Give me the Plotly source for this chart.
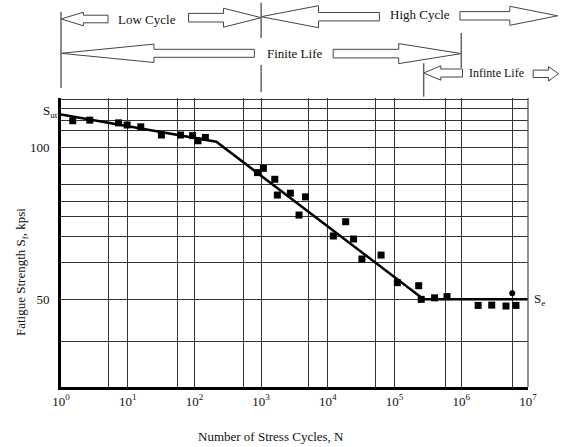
import math
import plotly.graph_objects as go

# ---------------- data ----------------
cycles_pts = [1.5, 2.7, 7.3, 9.8, 15.7, 32, 62, 94, 113, 146,
              880, 1080, 1600, 1750, 2740, 4620, 3700,
              18500, 12100, 24300, 32400, 62800,
              110000, 230000, 251000, 398000, 611000,
              1.79e6, 2.86e6, 4.68e6, 6.6e6]
strength_pts = [108.9, 109.1, 108.2, 107.5, 106.9, 104.2, 104.2, 104.0, 102.3, 103.4,
                91.8, 93.2, 89.6, 84.4, 85.0, 83.8, 77.8,
                75.6, 70.9, 69.9, 63.3, 64.6,
                55.5, 54.5, 50.0, 50.5, 50.9,
                48.0, 48.1, 47.8, 48.0]
cycles_round = [5.8e6]
strength_round = [52.0]

curve_cycles = [1, 213, 273000, 1e7]
curve_strength = [111.0, 102.0, 50.0, 50.0]

x_tick_vals = [1, 5.2, 10, 56, 100, 550, 1000, 5200, 1e4, 52000, 1e5, 580000, 1e6, 5.9e6, 1e7]
x_tick_text = ["10<sup>0</sup>", "", "10<sup>1</sup>", "", "10<sup>2</sup>", "", "10<sup>3</sup>", "",
               "10<sup>4</sup>", "", "10<sup>5</sup>", "", "10<sup>6</sup>", "", "10<sup>7</sup>"]
y_tick_vals = [36.2, 50, 62.2, 70.7, 77.2, 82.4, 87.9, 94.6, 100, 105.6, 109.1, 112.9, 116.06]
y_tick_text = ["", "50", "", "", "", "", "", "", "100", "", "", "", ""]

FONT = "Liberation Serif"
TXT = "#111111"

# ---------------- layout geometry ----------------
W, H = 563, 447
L, R, T, B = 61, 35, 98, 60
PW = W - L - R
PH = H - T - B
BOT = H - B

# decade pixel positions in the reference drawing (for placing the top schematic)
DEC = [61, 127.3, 191.7, 252.7, 321.3, 387.3, 454.7, 528.3]


def px2log(px):
    for k in range(len(DEC) - 1):
        if px < DEC[k + 1] or k == len(DEC) - 2:
            return k + (px - DEC[k]) / (DEC[k + 1] - DEC[k])


def xp(px):
    return px2log(px) / 7.0


def yp(py):
    return (BOT - py) / PH


def left_arrow(xt, yc, xb, hh, sh, xe):
    pts = [(xt, yc), (xb, yc - hh), (xb, yc - sh), (xe, yc - sh),
           (xe, yc + sh), (xb, yc + sh), (xb, yc + hh)]
    return "M " + " L ".join(f"{xp(a):.5f},{yp(b):.5f}" for a, b in pts) + " Z"


def right_arrow(xs, yc, xb, hh, sh, xt):
    pts = [(xs, yc - sh), (xb, yc - sh), (xb, yc - hh), (xt, yc),
           (xb, yc + hh), (xb, yc + sh), (xs, yc + sh)]
    return "M " + " L ".join(f"{xp(a):.5f},{yp(b):.5f}" for a, b in pts) + " Z"


fig = go.Figure()
fig.add_trace(go.Scatter(x=curve_cycles, y=curve_strength, mode="lines",
                         line=dict(color="black", width=2.5), showlegend=False,
                         hoverinfo="skip"))
fig.add_trace(go.Scatter(x=cycles_pts, y=strength_pts, mode="markers",
                         marker=dict(symbol="square", size=7, color="black"),
                         showlegend=False))
fig.add_trace(go.Scatter(x=cycles_round, y=strength_round, mode="markers",
                         marker=dict(symbol="circle", size=6, color="black"),
                         showlegend=False))

shapes = []
arrow_style = dict(type="path", xref="paper", yref="paper",
                   line=dict(color="#444444", width=1), fillcolor="white", layer="above")
knee_px = 416.7
arrows = [
    left_arrow(61, 19.0, 83.3, 6.8, 3.8, 107.7),
    right_arrow(186, 17.7, 218.3, 9.5, 4.3, 252.7),
    left_arrow(252.7, 16.7, 311.7, 11.0, 4.2, 372.3),
    right_arrow(453.3, 15.8, 508.3, 9.5, 4.2, 561),
    left_arrow(61, 53.3, 152.6, 9.2, 4.0, 246.5),
    right_arrow(326.6, 53.6, 391.5, 10.0, 4.3, 454.7),
    left_arrow(knee_px, 73.0, 434, 7.2, 4.0, 456),
    right_arrow(534, 73.8, 551, 7.2, 3.7, 562),
]
for p in arrows:
    shapes.append(dict(arrow_style, path=p))

sep_style = dict(type="line", xref="paper", yref="paper",
                 line=dict(color="#666666", width=1.5))
for xpix, y0, y1 in [(61, 12, 88), (252.7, 2.7, 38), (252.7, 65, 92),
                     (454.7, 33, 68), (knee_px, 63.3, 96.7)]:
    shapes.append(dict(sep_style, x0=xp(xpix), x1=xp(xpix), y0=yp(y0), y1=yp(y1)))

# right border of the grid
shapes.append(dict(type="line", xref="paper", yref="paper", x0=1, x1=1, y0=0, y1=1,
                   line=dict(color="#555555", width=1.3)))

annotations = []
txt_font = dict(family=FONT, size=13, color=TXT)
for text, xpix, ypix, fs in [("Low Cycle", 145.5, 19, 13), ("High Cycle", 412.7, 14.5, 13),
                             ("Finite Life", 287.5, 53.3, 13), ("Infinte Life", 494, 73, 12)]:
    annotations.append(dict(text=text, xref="paper", yref="paper", x=xp(xpix), y=yp(ypix),
                            xanchor="center", yanchor="middle", showarrow=False,
                            font=dict(family=FONT, size=fs, color=TXT)))

annotations.append(dict(text="S<sub>ut</sub>", xref="paper", yref="y", x=0, y=curve_strength[0],
                        xanchor="right", yanchor="bottom", xshift=-1, yshift=-8,
                        showarrow=False, font=txt_font))
annotations.append(dict(text="S<sub>e</sub>", xref="paper", yref="y", x=1, y=curve_strength[-1],
                        xanchor="left", yanchor="middle", xshift=4,
                        showarrow=False, font=txt_font))
annotations.append(dict(text="Fatigue Strength S<sub>f</sub>, kpsi", xref="paper", yref="paper",
                        x=(21 - L) / PW, y=yp(272), textangle=-90,
                        xanchor="center", yanchor="middle", showarrow=False, font=txt_font))
annotations.append(dict(text="Number of Stress Cycles, N", xref="paper", yref="paper",
                        x=(271 - L) / PW, y=yp(436),
                        xanchor="center", yanchor="middle", showarrow=False, font=txt_font))

fig.update_layout(
    width=W, height=H,
    margin=dict(l=L, r=R, t=T, b=B),
    paper_bgcolor="white", plot_bgcolor="white",
    font=dict(family=FONT, size=13, color=TXT),
    shapes=shapes, annotations=annotations,
    xaxis=dict(type="log", range=[0, 7], tickvals=x_tick_vals, ticktext=x_tick_text,
               showgrid=True, gridcolor="#333333", gridwidth=1,
               showline=True, linecolor="black", linewidth=3,
               ticks="", zeroline=False, tickfont=dict(family=FONT, size=13, color=TXT)),
    yaxis=dict(range=[21.1, 116.4], tickvals=y_tick_vals, ticktext=y_tick_text,
               showgrid=True, gridcolor="#333333", gridwidth=1,
               showline=True, linecolor="black", linewidth=3,
               ticks="", zeroline=False, ticklabelstandoff=6,
               tickfont=dict(family=FONT, size=13, color=TXT)),
)

fig.write_html("out.html", config={"displayModeBar": False},
               post_script="document.body.style.margin='0';document.body.style.overflow='hidden';")
